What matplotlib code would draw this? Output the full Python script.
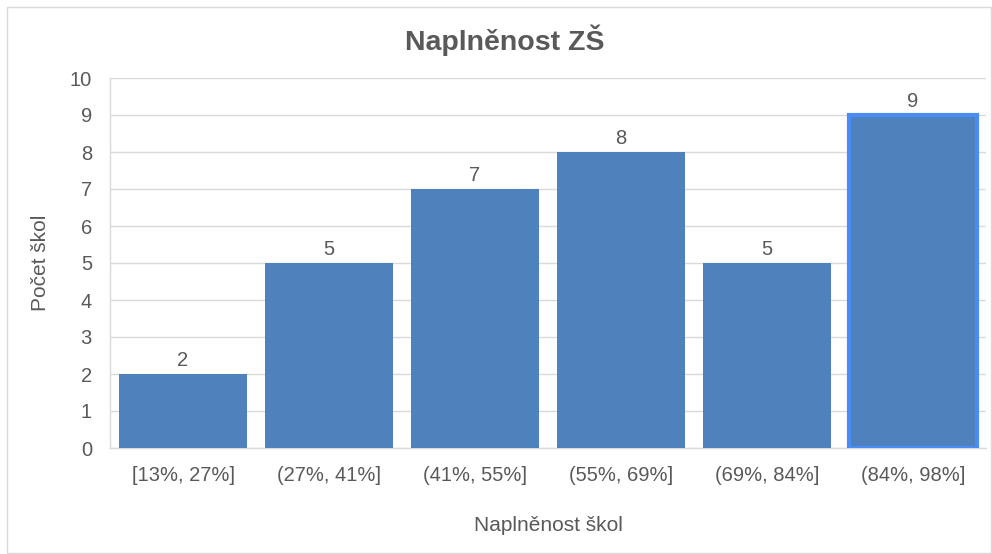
import matplotlib
matplotlib.use('Agg')
import matplotlib.pyplot as plt
from matplotlib.patches import Rectangle

# data
categories = ['[13%, 27%]', '(27%, 41%]', '(41%, 55%]', '(55%, 69%]', '(69%, 84%]', '(84%, 98%]']
counts = [2, 5, 7, 8, 5, 9]

plt.rcParams['font.family'] = ['Liberation Sans', 'DejaVu Sans']
txt = '#595959'
bar_col = '#4f81bd'

fig = plt.figure(figsize=(9.92, 5.54), dpi=100)
ax = fig.add_axes([110/992, 1 - 448/554, 876/992, 370/554])

x = list(range(len(categories)))
bars = ax.bar(x, counts, width=0.87, color=bar_col, zorder=3)
# last bar is selected in the original (bright blue outline)
bars[-1].set_edgecolor('#4a8cf5')
bars[-1].set_linewidth(3)

for xi, v in zip(x, counts):
    ax.text(xi, v + 0.1, str(v), ha='center', va='bottom', fontsize=14.5, color=txt)

ax.set_xlim(-0.5, len(categories) - 0.5)
ax.set_ylim(0, 10)
ax.set_yticks(range(0, 11))
ax.set_xticks(x)
ax.set_xticklabels(categories)
ax.tick_params(axis='both', length=0, labelsize=14.5, colors=txt)
ax.tick_params(axis='x', pad=13)
ax.tick_params(axis='y', pad=13)
ax.grid(axis='y', color='#d9d9d9', linewidth=1, zorder=0)
for s in ['top', 'right']:
    ax.spines[s].set_visible(False)
for s in ['left', 'bottom']:
    ax.spines[s].set_color('#d9d9d9')
    ax.spines[s].set_linewidth(1)

ax.set_xlabel('Naplněnost škol', fontsize=15, color=txt, labelpad=22)
ax.set_ylabel('Počet škol', fontsize=15, color=txt, labelpad=14)
fig.text(505/992, 1 - 40/554, 'Naplněnost ZŠ', ha='center', va='center',
         fontsize=20.5, fontweight='bold', color=txt)

# chart border
fig.patches.append(Rectangle((7/992, 0.001), 984/992, 1 - 7/554 - 0.001, transform=fig.transFigure,
                             fill=False, edgecolor='#d9d9d9', linewidth=1))

fig.savefig('out.png', dpi=100)
